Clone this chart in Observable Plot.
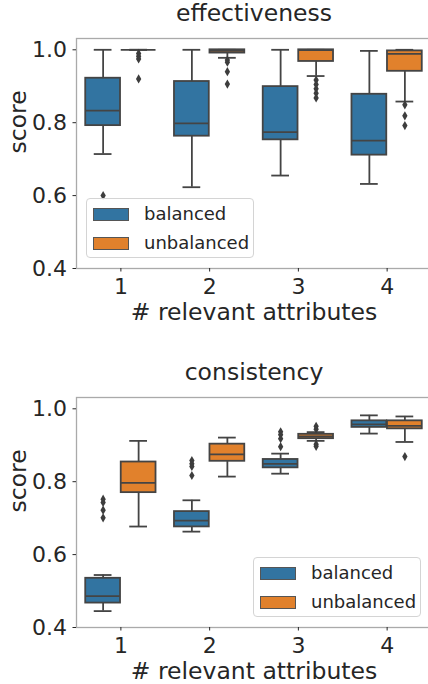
<!DOCTYPE html>
<html>
<head>
<meta charset="utf-8">
<script src="https://cdn.jsdelivr.net/npm/d3@7"></script>
<script src="https://cdn.jsdelivr.net/npm/@observablehq/plot@0.6"></script>
<style>
  body { margin: 0; background: #fff; font-family: "DejaVu Sans", sans-serif; }
  .panel { position: relative; width: 428px; overflow: hidden; }
  .panel svg { max-width: none !important; display: block; }
  .legend { position: absolute; top: 198px; width: 168px; height: 60px; border: 1px solid #d4d4d4; border-radius: 4px; background: rgba(255,255,255,0.85); box-sizing: border-box; }
  .sw { position: absolute; left: 6px; width: 36px; height: 13px; box-sizing: border-box; border: 1px solid #555; }
  .lt { position: absolute; left: 57px; font-size: 18px; line-height: 22px; color: #262626; font-family: "DejaVu Sans", sans-serif; }
</style>
</head>
<body>
<div id="p1" class="panel"></div>
<div id="p2" class="panel"></div>
<script>
// ---- data ----
const categories = [1, 2, 3, 4];
const groups = ["balanced", "unbalanced"];
const colors = ["#3274a1", "#e1812c"];
// each entry: [whisker low, Q1, median, Q3, whisker high] per category
const effBalanced   = [[0.714, 0.792, 0.833, 0.922, 1.0], [0.623, 0.763, 0.798, 0.913, 1.0], [0.655, 0.753, 0.774, 0.899, 1.0], [0.632, 0.711, 0.751, 0.878, 0.997]];
const effUnbalanced = [[1.0, 1.0, 1.0, 1.0, 1.0], [0.978, 0.991, 0.997, 1.0, 1.0], [0.928, 0.968, 0.999, 1.0, 1.0], [0.858, 0.941, 0.989, 0.997, 1.0]];
const effOutBalanced   = [[1, 0.600]];
const effOutUnbalanced = [[1, 0.990], [1, 0.982], [1, 0.975], [1, 0.920], [2, 0.972], [2, 0.966], [2, 0.940], [2, 0.906], [3, 0.917], [3, 0.905], [3, 0.893], [3, 0.881], [3, 0.868], [4, 0.849], [4, 0.819], [4, 0.792]];
const conBalanced   = [[0.445, 0.467, 0.486, 0.535, 0.544], [0.663, 0.676, 0.693, 0.718, 0.749], [0.822, 0.838, 0.849, 0.861, 0.877], [0.932, 0.949, 0.957, 0.967, 0.982]];
const conUnbalanced = [[0.677, 0.770, 0.797, 0.854, 0.912], [0.814, 0.856, 0.875, 0.903, 0.921], [0.912, 0.918, 0.924, 0.930, 0.936], [0.909, 0.945, 0.953, 0.967, 0.979]];
const conOutBalanced   = [[1, 0.752], [1, 0.743], [1, 0.722], [1, 0.701], [2, 0.858], [2, 0.849], [2, 0.842], [2, 0.817], [3, 0.937], [3, 0.929], [3, 0.918], [3, 0.896]];
const conOutUnbalanced = [[3, 0.952], [3, 0.944], [3, 0.903], [3, 0.897], [4, 0.869]];
const yTicks = [0.4, 0.6, 0.8, 1.0];
const titles = ["effectiveness", "consistency"];
const xLabel = "# relevant attributes";
const yLabel = "score";

// ---- drawing ----
const LINE = "#444444";
const HALF = 0.196, CAP = 0.1;
const center = d => d.cat + (d.gi - 0.5) * 0.4;

function panel(el, title, bal, unb, outBal, outUnb, height, marginBottom) {
  const rows = categories.flatMap((c, i) => groups.map((g, gi) => {
    const s = gi === 0 ? bal[i] : unb[i];
    return {cat: c, group: g, gi, low: s[0], q1: s[1], med: s[2], q3: s[3], high: s[4]};
  }));
  const outs = [...outBal.map(([c, v]) => ({cat: c, gi: 0, v})), ...outUnb.map(([c, v]) => ({cat: c, gi: 1, v}))];
  const sw = {stroke: LINE, strokeWidth: 1.8};
  const chart = Plot.plot({
    width: 431, height,
    marginLeft: 76, marginRight: 0, marginTop: 38, marginBottom,
    style: {fontFamily: "DejaVu Sans", fontSize: "22px", color: "#262626", background: "white", maxWidth: "none"},
    x: {domain: [0.5, 4.5]},
    y: {domain: [0.4, 1.031]},
    color: {domain: groups, range: colors},
    marks: [
      Plot.ruleX(rows, {x: center, y1: "low", y2: "q1", ...sw}),
      Plot.ruleX(rows, {x: center, y1: "q3", y2: "high", ...sw}),
      Plot.ruleY(rows, {y: "low", x1: d => center(d) - CAP, x2: d => center(d) + CAP, ...sw}),
      Plot.ruleY(rows, {y: "high", x1: d => center(d) - CAP, x2: d => center(d) + CAP, ...sw}),
      Plot.rect(rows, {x1: d => center(d) - HALF, x2: d => center(d) + HALF, y1: "q1", y2: "q3", fill: "group", ...sw}),
      Plot.ruleY(rows, {y: "med", x1: d => center(d) - HALF, x2: d => center(d) + HALF, ...sw}),
      Plot.dot(outs, {x: center, y: "v", symbol: "diamond", r: 2.8, fill: "#3d3d3d", stroke: "none"}),
      Plot.frame({stroke: "#aaaaaa", strokeWidth: 1.3}),
      Plot.axisX({ticks: categories, tickFormat: d3.format("d"), tickSize: 3.5, tickPadding: 6, label: null}),
      Plot.axisY({ticks: yTicks, tickFormat: d3.format(".1f"), tickSize: 3.5, tickPadding: 6, label: null}),
      Plot.text([title], {text: d => d, frameAnchor: "top", dy: -25, lineAnchor: "middle", fontSize: 23.5}),
      Plot.text([xLabel], {text: d => d, frameAnchor: "bottom", dy: 44, lineAnchor: "middle", fontSize: 23.5}),
      Plot.text([yLabel], {text: d => d, frameAnchor: "left", dx: -58, rotate: -90, lineAnchor: "middle", fontSize: 23.5})
    ]
  });
  el.appendChild(chart);
  return chart;
}

function legend(el, left) {
  const box = document.createElement("div");
  box.className = "legend";
  box.style.left = left + "px";
  groups.forEach((g, i) => {
    const s = document.createElement("div");
    s.className = "sw";
    s.style.top = (9 + i * 29) + "px";
    s.style.background = colors[i];
    box.appendChild(s);
    const t = document.createElement("div");
    t.className = "lt";
    t.style.top = (4 + i * 29) + "px";
    t.textContent = g;
    box.appendChild(t);
  });
  el.appendChild(box);
}

const p1 = document.getElementById("p1");
const p2 = document.getElementById("p2");
panel(p1, titles[0], effBalanced, effUnbalanced, effOutBalanced, effOutUnbalanced, 359, 91);
legend(p1, 86);
panel(p2, titles[1], conBalanced, conUnbalanced, conOutBalanced, conOutUnbalanced, 325, 57);
legend(p2, 253);
</script>
</body>
</html>
